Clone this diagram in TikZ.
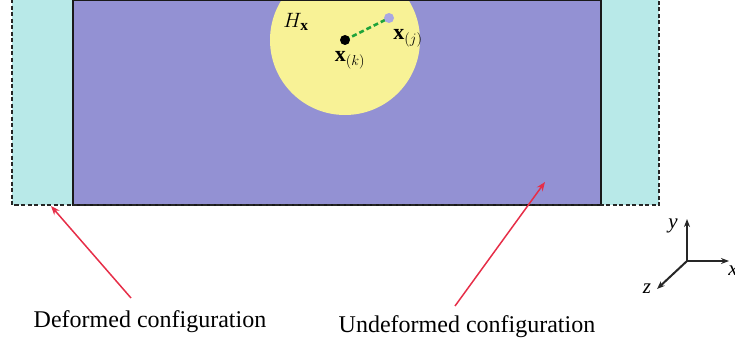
\documentclass[tikz,border=0pt]{standalone}
\usepackage{fontspec}
\setmainfont{Liberation Serif}
\usetikzlibrary{arrows.meta}
\definecolor{cyanfill}{HTML}{B8E9E8}
\definecolor{purplefill}{HTML}{9391D3}
\definecolor{yellowfill}{HTML}{F8F296}
\definecolor{greendash}{HTML}{1FA33A}
\definecolor{lavdot}{HTML}{A9A7E2}
\definecolor{redarrow}{HTML}{E62E48}
\tikzset{
  pointer/.style={redarrow, line width=1.5pt, -{Stealth[length=9pt,width=7pt]}},
  axis/.style={black!85, line width=2pt, -{Stealth[length=8pt,width=6pt]}},
  caption/.style={font=\fontsize{24}{28}\selectfont, inner sep=0pt},
  axlabel/.style={font=\fontsize{21}{24}\selectfont\itshape, inner sep=0pt},
  mathlabel/.style={font=\fontsize{22}{26}\selectfont, inner sep=0pt}
}
\begin{document}
\begin{tikzpicture}[x=1pt,y=-1pt]
\useasboundingbox (0,0) rectangle (735,345);
\begin{scope}
\clip (0,0) rectangle (735,345);
% deformed configuration (dashed)
\fill[cyanfill] (12,-2) rectangle (659,205);
% undeformed configuration
\fill[purplefill] (73,-2) rectangle (601,205);
% horizon
\fill[yellowfill] (345,40) circle (75);
\draw[black!90, line width=2.2pt] (73,-0.5) rectangle (601,205);
\draw[black!85, line width=2pt, dash pattern=on 4pt off 2.5pt] (12,-0.5) rectangle (659,205);
\end{scope}
% points
\coordinate (xk) at (345,40);
\coordinate (xj) at (389,18);
\draw[greendash, line width=2.6pt, dash pattern=on 5pt off 3pt] (xk) -- (xj);
\fill[black] (xk) circle (5);
\fill[lavdot] (xj) circle (5);
\node[mathlabel] (hx) at (296,22) {$H_{\mathbf{x}}$};
\node[mathlabel] (lk) at (350,60) {$\mathbf{x}_{(k)}$};
\node[mathlabel] (lj) at (408,38) {$\mathbf{x}_{(j)}$};
% captions and pointers
\node[caption] (def) at (150,322) {Deformed configuration};
\node[caption] (undef) at (467,327) {Undeformed configuration};
\coordinate (deftip) at (51,206);
\coordinate (undeftip) at (545,182);
\coordinate (defstart) at (131,298);
\coordinate (undefstart) at (455,306);
\draw[pointer] (defstart) -- (deftip);
\draw[pointer] (undefstart) -- (undeftip);
% axes
\coordinate (o) at (687,261);
\coordinate (ytip) at (687,219);
\coordinate (xtip) at (729,261);
\coordinate (ztip) at (657,289);
\draw[axis] (o) -- (ytip);
\draw[axis] (o) -- (xtip);
\draw[axis] (o) -- (ztip);
\node[axlabel] (ly) at (673,226) {y};
\node[axlabel] (lx) at (733,271) {x};
\node[axlabel] (lz) at (647,289) {z};
\end{tikzpicture}
\end{document}
